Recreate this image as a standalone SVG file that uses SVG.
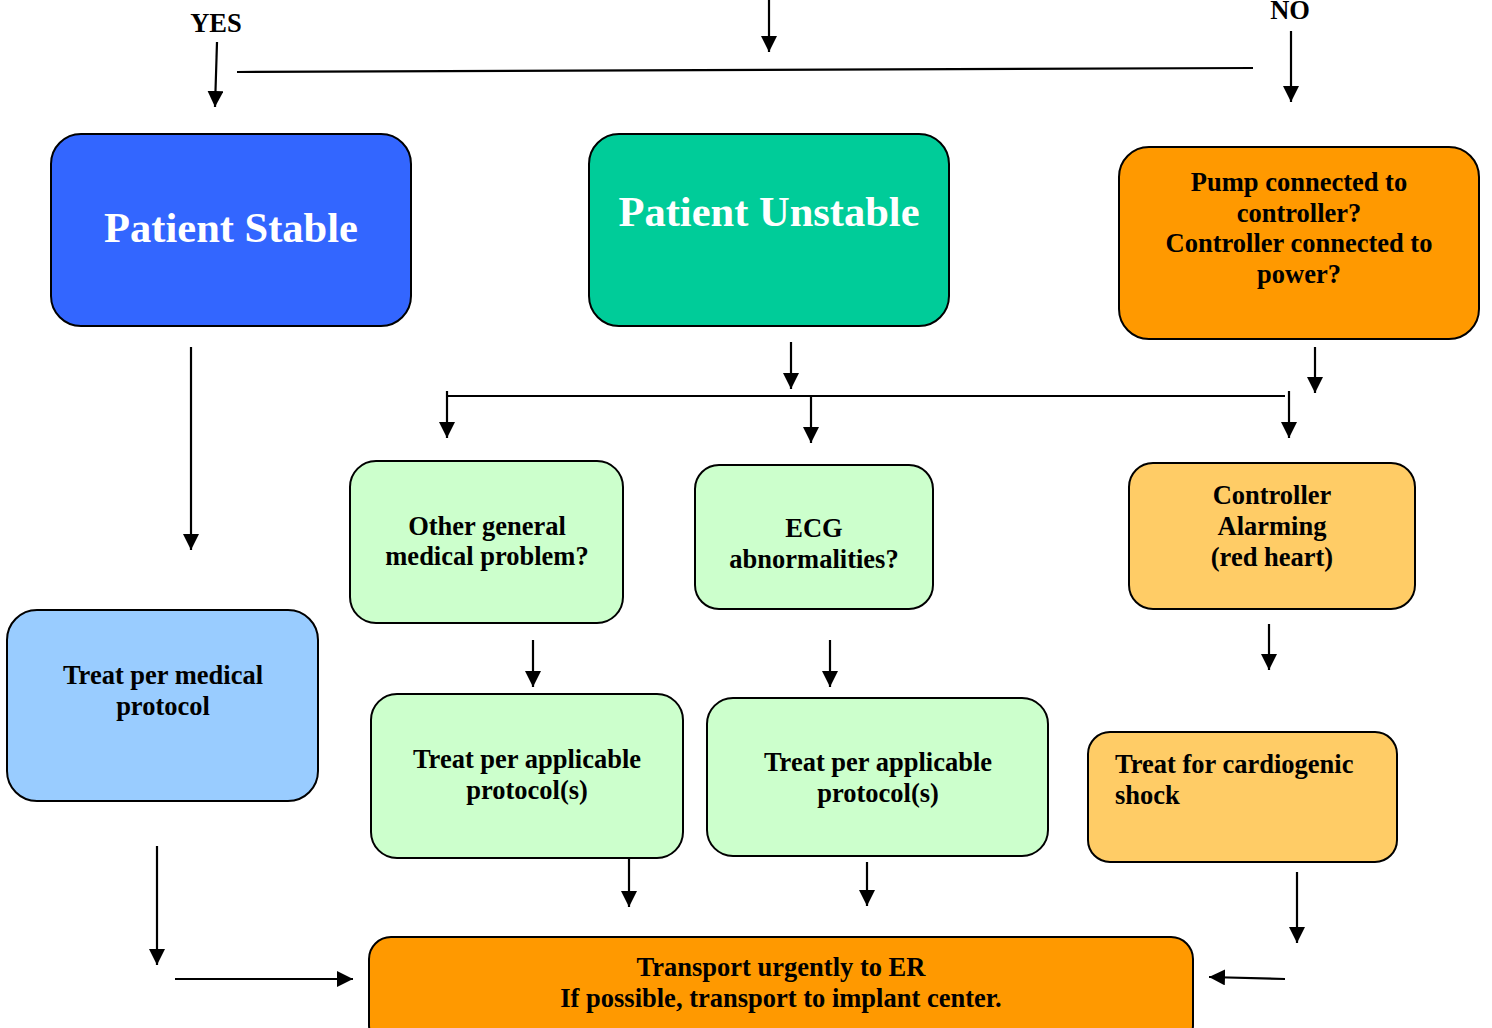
<svg xmlns="http://www.w3.org/2000/svg" width="1492" height="1028" viewBox="0 0 1492 1028">
<defs>
<marker id="ah" markerWidth="16" markerHeight="16" refX="16" refY="8" orient="auto" markerUnits="userSpaceOnUse">
<path d="M0,0 L16,8 L0,16 Z" fill="#000"/>
</marker>
<style>
.n{stroke:#000;stroke-width:2}
.t{font-family:"Liberation Serif","Times New Roman",serif;font-weight:bold;font-size:26.5px;fill:#000;text-anchor:middle}
.big{font-family:"Liberation Serif","Times New Roman",serif;font-weight:bold;font-size:42.5px;fill:#fff;text-anchor:middle}
.c line{stroke:#000;stroke-width:2.2;fill:none}
.c .a{marker-end:url(#ah)}
</style>
</defs>
<rect width="1492" height="1028" fill="#fff"/>

<g id="stable"><rect class="n" x="51" y="134" width="360" height="192" rx="30" fill="#3366FF"/><text class="big" x="231" y="242">Patient Stable</text></g>
<g id="unstable"><rect class="n" x="589" y="134" width="360" height="192" rx="30" fill="#00CC99"/><text class="big" x="769" y="226">Patient Unstable</text></g>
<g id="pump"><rect class="n" x="1119" y="147" width="360" height="192" rx="30" fill="#FF9900"/><text class="t" x="1299" y="191">Pump connected to</text><text class="t" x="1299" y="222">controller?</text><text class="t" x="1299" y="252">Controller connected to</text><text class="t" x="1299" y="283">power?</text></g>
<g id="general"><rect class="n" x="350" y="461" width="273" height="162" rx="26" fill="#CCFFCC"/><text class="t" x="487" y="535">Other general</text><text class="t" x="487" y="565">medical problem?</text></g>
<g id="ecg"><rect class="n" x="695" y="465" width="238" height="144" rx="24" fill="#CCFFCC"/><text class="t" x="814" y="537">ECG</text><text class="t" x="814" y="568">abnormalities?</text></g>
<g id="alarm"><rect class="n" x="1129" y="463" width="286" height="146" rx="24" fill="#FFCC66"/><text class="t" x="1272" y="504">Controller</text><text class="t" x="1272" y="535">Alarming</text><text class="t" x="1272" y="566">(red heart)</text></g>
<g id="medical"><rect class="n" x="7" y="610" width="311" height="191" rx="30" fill="#99CCFF"/><text class="t" x="163" y="684">Treat per medical</text><text class="t" x="163" y="715">protocol</text></g>
<g id="applicable1"><rect class="n" x="371" y="694" width="312" height="164" rx="26" fill="#CCFFCC"/><text class="t" x="527" y="768">Treat per applicable</text><text class="t" x="527" y="799">protocol(s)</text></g>
<g id="applicable2"><rect class="n" x="707" y="698" width="341" height="158" rx="26" fill="#CCFFCC"/><text class="t" x="878" y="771">Treat per applicable</text><text class="t" x="878" y="802">protocol(s)</text></g>
<g id="shock"><rect class="n" x="1088" y="732" width="309" height="130" rx="22" fill="#FFCC66"/><text class="t" x="1115" y="773" style="text-anchor:start">Treat for cardiogenic</text><text class="t" x="1115" y="804" style="text-anchor:start">shock</text></g>
<g id="transport"><rect class="n" x="369" y="937" width="824" height="110" rx="22" fill="#FF9900"/><text class="t" x="781" y="976">Transport urgently to ER</text><text class="t" x="781" y="1007">If possible, transport to implant center.</text></g>

<g id="labels">
<text class="t" x="216" y="32">YES</text>
<text class="t" x="1290" y="19">NO</text>
</g>

<g class="c" id="connectors">
<line class="a" x1="769" y1="0" x2="769" y2="52"/>
<line class="a" x1="217" y1="42" x2="215" y2="107"/>
<line x1="237" y1="72" x2="1253" y2="68"/>
<line class="a" x1="1291" y1="31" x2="1291" y2="102"/>
<line class="a" x1="191" y1="347" x2="191" y2="550"/>
<line class="a" x1="791" y1="342" x2="791" y2="389"/>
<line x1="446" y1="396" x2="1285" y2="396"/>
<line class="a" x1="447" y1="391" x2="447" y2="438"/>
<line class="a" x1="811" y1="396" x2="811" y2="443"/>
<line class="a" x1="1289" y1="391" x2="1289" y2="438"/>
<line class="a" x1="1315" y1="347" x2="1315" y2="393"/>
<line class="a" x1="533" y1="640" x2="533" y2="687"/>
<line class="a" x1="830" y1="640" x2="830" y2="687"/>
<line class="a" x1="1269" y1="624" x2="1269" y2="670"/>
<line class="a" x1="629" y1="858" x2="629" y2="907"/>
<line class="a" x1="867" y1="862" x2="867" y2="906"/>
<line class="a" x1="157" y1="846" x2="157" y2="965"/>
<line class="a" x1="175" y1="979" x2="353" y2="979"/>
<line class="a" x1="1297" y1="872" x2="1297" y2="943"/>
<line class="a" x1="1285" y1="979" x2="1209" y2="977"/>
</g>
</svg>
